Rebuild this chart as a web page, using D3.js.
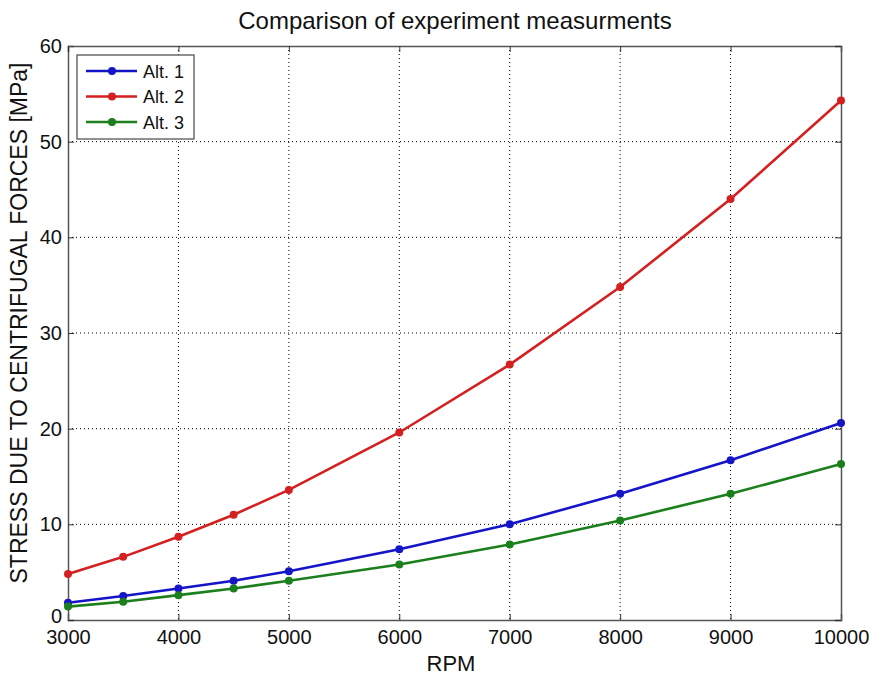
<!DOCTYPE html>
<html>
<head>
<meta charset="utf-8">
<script src="https://cdn.jsdelivr.net/npm/d3@7"></script>
<style>
  body { margin: 0; background: #fff; }
  text { font-family: "Liberation Sans", Arial, sans-serif; fill: #111; }
</style>
</head>
<body>
<script>
// data
const rpm = [3000, 3500, 4000, 4500, 5000, 6000, 7000, 8000, 9000, 10000];
const alt1 = [1.8, 2.5, 3.3, 4.1, 5.1, 7.4, 10.0, 13.2, 16.7, 20.6];
const alt2 = [4.8, 6.6, 8.7, 11.0, 13.6, 19.6, 26.7, 34.8, 44.0, 54.3];
const alt3 = [1.4, 1.9, 2.6, 3.3, 4.1, 5.8, 7.9, 10.4, 13.2, 16.3];
const seriesNames = ["Alt. 1", "Alt. 2", "Alt. 3"];
const seriesColors = ["#1414c8", "#d42020", "#1b7f1b"];
const xTicks = [3000, 4000, 5000, 6000, 7000, 8000, 9000, 10000];
const yTicks = [0, 10, 20, 30, 40, 50, 60];

const width = 872, height = 677;
const margin = { left: 68, right: 31, top: 46, bottom: 57 };
const w = width - margin.left - margin.right;
const h = height - margin.top - margin.bottom;

const svg = d3.select("body").append("svg")
    .attr("width", width)
    .attr("height", height);

const g = svg.append("g")
    .attr("transform", "translate(" + margin.left + "," + margin.top + ")");

const x = d3.scaleLinear().domain([3000, 10000]).range([0, w]);
const y = d3.scaleLinear().domain([0, 60]).range([h, 0]);

// grid
g.selectAll(".gx").data(xTicks.slice(1, -1)).enter().append("line")
    .attr("x1", d => x(d)).attr("x2", d => x(d))
    .attr("y1", 0).attr("y2", h)
    .attr("stroke", "#000").attr("stroke-width", 1)
    .attr("stroke-dasharray", "1,3");
g.selectAll(".gy").data(yTicks.slice(1, -1)).enter().append("line")
    .attr("x1", 0).attr("x2", w)
    .attr("y1", d => y(d)).attr("y2", d => y(d))
    .attr("stroke", "#000").attr("stroke-width", 1)
    .attr("stroke-dasharray", "1,3");

// axes, ticks pointing inward like matlab
g.append("g").attr("transform", "translate(0," + h + ")")
    .call(d3.axisBottom(x).tickValues(xTicks).tickSize(-6).tickPadding(10).tickFormat(d3.format("d")));
const yAx = g.append("g")
    .call(d3.axisLeft(y).tickValues(yTicks).tickSize(-6).tickPadding(6));
// the "0" sits a bit higher so it clears the 3000 below it
yAx.selectAll(".tick text").attr("dy", d => d === 0 ? "0.1em" : "0.32em");
g.append("g")
    .call(d3.axisTop(x).tickValues(xTicks).tickSize(-6).tickFormat(""));
g.append("g").attr("transform", "translate(" + w + ",0)")
    .call(d3.axisRight(y).tickValues(yTicks).tickSize(-6).tickFormat(""));

g.selectAll(".domain").attr("stroke", "#555").attr("stroke-width", 1.5);
g.selectAll(".tick line").attr("stroke", "#333");
g.selectAll(".tick text").style("font-size", "20px").attr("fill", "#111")
    .style("font-family", "'Liberation Sans', Arial, sans-serif");

// lines
const allSeries = [alt1, alt2, alt3];
const line = d3.line().x((d, i) => x(rpm[i])).y(d => y(d));

allSeries.forEach((vals, k) => {
    g.append("path").datum(vals)
        .attr("d", line)
        .attr("fill", "none")
        .attr("stroke", seriesColors[k])
        .attr("stroke-width", 2.6);
    g.selectAll(".pt" + k).data(vals).enter().append("circle")
        .attr("cx", (d, i) => x(rpm[i]))
        .attr("cy", d => y(d))
        .attr("r", 4)
        .attr("fill", seriesColors[k]);
});

// legend
const leg = g.append("g").attr("transform", "translate(9,9)");
leg.append("rect").attr("width", 117).attr("height", 84)
    .attr("fill", "#fff").attr("stroke", "#555").attr("stroke-width", 1.3);
seriesNames.forEach((name, k) => {
    const yy = 16 + k * 25.5;
    leg.append("line").attr("x1", 9).attr("x2", 60).attr("y1", yy).attr("y2", yy)
        .attr("stroke", seriesColors[k]).attr("stroke-width", 2.6);
    leg.append("circle").attr("cx", 35).attr("cy", yy).attr("r", 4).attr("fill", seriesColors[k]);
    leg.append("text").attr("x", 66).attr("y", yy + 6.5).style("font-size", "18px").text(name);
});

// title and labels
svg.append("text").attr("x", 455).attr("y", 29)
    .attr("text-anchor", "middle").style("font-size", "24px")
    .text("Comparison of experiment measurments");
svg.append("text").attr("x", 451).attr("y", 671)
    .attr("text-anchor", "middle").style("font-size", "22px")
    .text("RPM");
svg.append("text")
    .attr("transform", "translate(27,323) rotate(-90)")
    .attr("text-anchor", "middle").style("font-size", "23px")
    .text("STRESS DUE TO CENTRIFUGAL FORCES [MPa]");
</script>
</body>
</html>
